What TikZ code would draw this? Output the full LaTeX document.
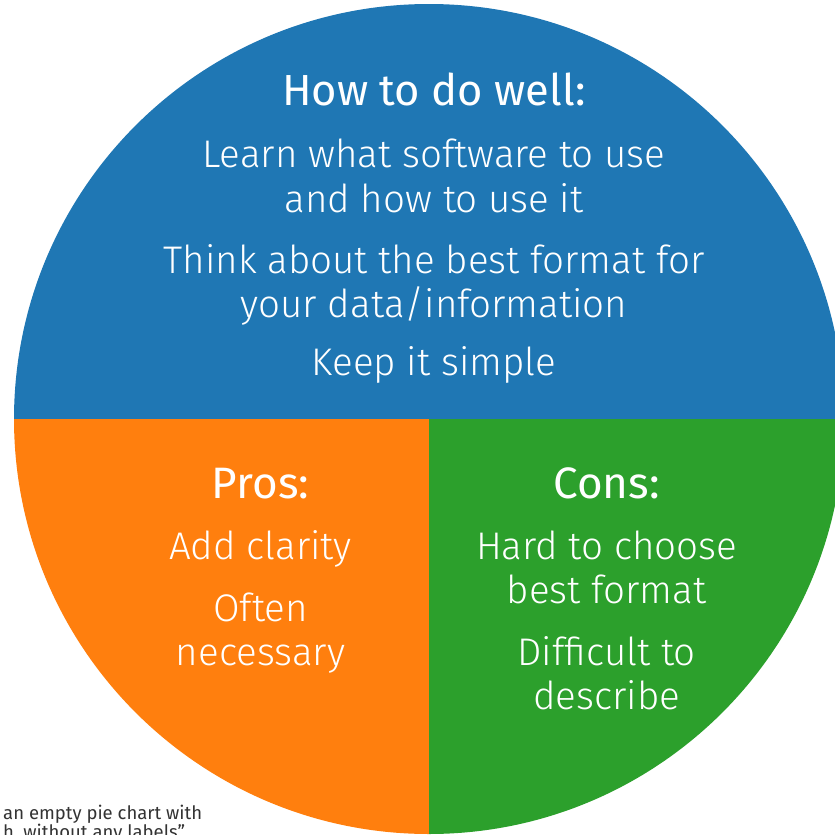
\documentclass[tikz,border=0pt]{standalone}
\usepackage{fontspec}
\setmainfont{Fira Sans}
\newfontfamily\bodyfont{Fira Sans Light}
\newfontfamily\headfont{Fira Sans}
\definecolor{pieblue}{HTML}{1F77B4}
\definecolor{pieorange}{HTML}{FF7F0E}
\definecolor{piegreen}{HTML}{2CA02C}
\definecolor{captiongray}{HTML}{333333}
\tikzset{
  wedge/.style={draw=none},
  headtext/.style={text=white, anchor=base, inner sep=0pt, font=\headfont\fontsize{43.5}{50}\selectfont},
  subhead/.style={text=white, anchor=base, inner sep=0pt, font=\headfont\fontsize{44}{50}\selectfont},
  bodytext/.style={text=white, anchor=base, inner sep=0pt, font=\bodyfont\fontsize{38.5}{44}\selectfont},
  captext/.style={text=captiongray, anchor=base west, inner sep=0pt, font=\headfont\fontsize{18.5}{20}\selectfont}
}
\begin{document}
\begin{tikzpicture}[x=1pt,y=-1pt]
\useasboundingbox (0,0) rectangle (835,835);
\clip (0,0) rectangle (835,835);
\coordinate (c) at (429,419);
% wedges
\fill[pieblue, wedge] (c) -- +(415,0) arc[start angle=0, end angle=-180, radius=415] -- cycle;
\fill[pieorange, wedge] (c) -- +(-415,0) arc[start angle=180, end angle=90, radius=415] -- cycle;
\fill[piegreen, wedge] (c) -- +(0,415) arc[start angle=90, end angle=0, radius=415] -- cycle;
% blue texts
\node[headtext] (howto) at (434,105) {How to do well:};
\node[bodytext] (learn1) at (434,167) {Learn what software to use};
\node[bodytext] (learn2) at (434,212) {and how to use it};
\node[bodytext] (think1) at (434,273) {Think about the best format for};
\node[bodytext] (think2) at (434,317) {your data/information};
\node[bodytext] (keep) at (434,375) {Keep it simple};
% pros
\node[subhead] (pros) at (260.5,498) {Pros:};
\node[bodytext] (add) at (260.5,559) {Add clarity};
\node[bodytext] (often1) at (260.5,621) {Often};
\node[bodytext] (often2) at (260.5,665) {necessary};
% cons
\node[subhead] (cons) at (606.7,498) {Cons:};
\node[bodytext] (hard1) at (606.7,559) {Hard to choose};
\node[bodytext] (hard2) at (606.7,603) {best format};
\node[bodytext] (diff1) at (606.7,665) {Difficult to};
\node[bodytext] (diff2) at (606.7,709) {describe};
% caption (cut off by the picture's edge, as in the reference)
\node[captext] (cap1) at (3,819) {an empty pie chart with};
\node[captext] (cap2) at (3,838) {h, without any labels”};
\end{tikzpicture}
\end{document}
